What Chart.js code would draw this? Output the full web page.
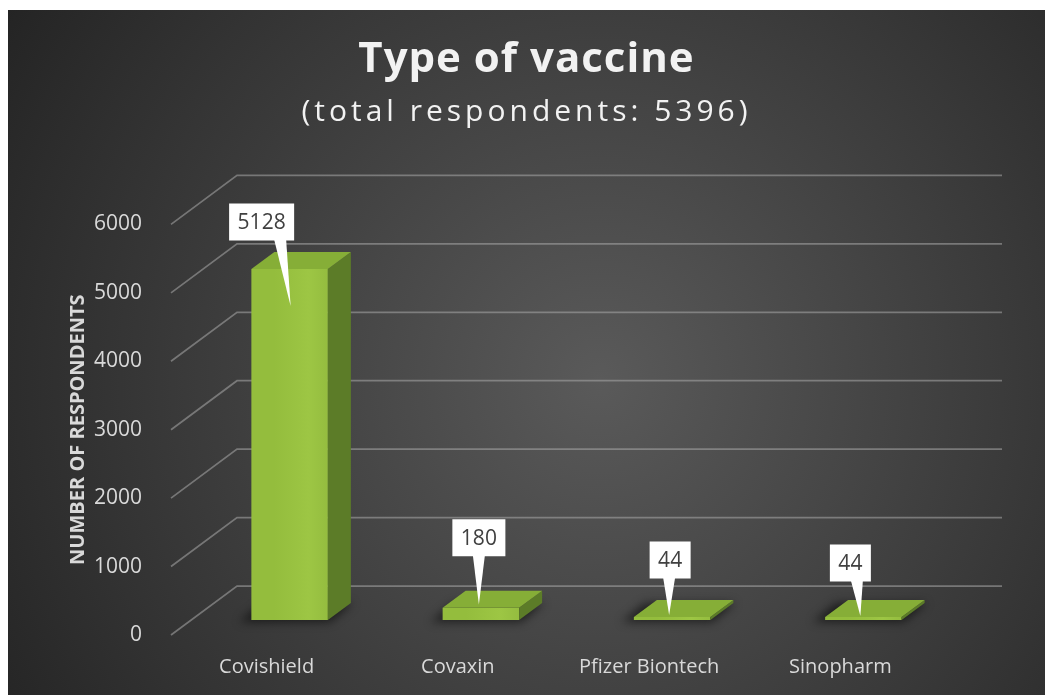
<!DOCTYPE html>
<html>
<head>
<meta charset="utf-8">
<script src="https://cdn.jsdelivr.net/npm/chart.js@4.4.0/dist/chart.umd.min.js"></script>
<style>
  html, body { margin: 0; padding: 0; background: #fff; }
  #wrap { width: 1045px; height: 695px; }
</style>
</head>
<body>
<div id="wrap"><canvas id="vaccinechart"></canvas></div>
<script>
const vaccines = ['Covishield', 'Covaxin', 'Pfizer Biontech', 'Sinopharm']
const respondents = [5128, 180, 44, 44]
const yTicks = [0, 1000, 2000, 3000, 4000, 5000, 6000]
const chartTitle = 'Type of vaccine'
const chartSubtitle = '(total respondents: 5396)'
const yTitle = 'NUMBER OF RESPONDENTS'

// fake 3d: floor runs from the front plane (chart area) back to the wall
const wallDepth = {x: 66, y: -49}
const barShift = {x: 23, y: -15}
const barDepth = {x: 23, y: -17}
// where each callout box sits, relative to the top of its bar
const calloutSpots = [
  {dx: -28, dy: -47, tipX: 1, tipY: 37},
  {dx: -2, dy: -70, tipX: -2, tipY: -3},
  {dx: -2, dy: -57, tipX: -3, tipY: -2},
  {dx: -13, dy: -54, tipX: -3, tipY: -1}
]

const font = "'Open Sans', 'DejaVu Sans', sans-serif"

const background = {
  id: 'background',
  beforeDraw(chart) {
    const {ctx, width, height} = chart
    ctx.save()
    ctx.fillStyle = '#fff'
    ctx.fillRect(0, 0, width, height)
    const g = ctx.createRadialGradient(600, 380, 0, 600, 380, 700)
    g.addColorStop(0, '#5a5a5a')
    g.addColorStop(1, '#242424')
    ctx.fillStyle = g
    ctx.fillRect(8, 10, width - 8, height - 10)
    ctx.restore()
  }
}

// letter spacing for the two heading lines
const spacedTitles = {
  id: 'spacedTitles',
  afterInit(chart) {
    chart.boxes.forEach(box => {
      if (box === chart.legend || !box.options || box.options.text === undefined) return
      const draw = box.draw
      box.draw = function (area) {
        chart.ctx.save()
        chart.ctx.letterSpacing = this.options.text === chartTitle ? '1px' : '4px'
        draw.call(this, area)
        chart.ctx.restore()
      }
    })
  }
}

const threeD = {
  id: 'threeD',
  beforeDatasetsDraw(chart) {
    const {ctx, chartArea} = chart
    const yScale = chart.scales.y
    // back wall grid + floor diagonals
    ctx.save()
    ctx.strokeStyle = 'rgba(170,170,170,0.55)'
    ctx.lineWidth = 1.75
    yScale.ticks.forEach(t => {
      const y = yScale.getPixelForValue(t.value)
      ctx.beginPath()
      ctx.moveTo(chartArea.left, y)
      ctx.lineTo(chartArea.left + wallDepth.x, y + wallDepth.y)
      ctx.lineTo(chartArea.right + wallDepth.x, y + wallDepth.y)
      ctx.stroke()
    })
    ctx.restore()

    ctx.save()
    ctx.translate(barShift.x, barShift.y)
    // soft floor shadows
    const meta = chart.getDatasetMeta(0)
    ctx.save()
    ctx.filter = 'blur(5px)'
    ctx.fillStyle = 'rgba(0,0,0,0.55)'
    meta.data.forEach(bar => {
      const {x, base, width} = bar.getProps(['x', 'base', 'width'], true)
      const l = x - width / 2 - 12, r = x + width / 2 + 2
      ctx.beginPath()
      ctx.moveTo(l, base + 2)
      ctx.lineTo(r, base + 2)
      ctx.lineTo(r + barDepth.x, base + barDepth.y)
      ctx.lineTo(l + barDepth.x, base + barDepth.y)
      ctx.closePath()
      ctx.fill()
    })
    ctx.restore()
  },
  afterDatasetsDraw(chart) {
    const {ctx} = chart
    const meta = chart.getDatasetMeta(0)
    const tops = []
    meta.data.forEach(bar => {
      const {x, y, base, width} = bar.getProps(['x', 'y', 'base', 'width'], true)
      const l = x - width / 2, r = x + width / 2
      ctx.fillStyle = '#5c7c28'
      ctx.beginPath()
      ctx.moveTo(r, y)
      ctx.lineTo(r + barDepth.x, y + barDepth.y)
      ctx.lineTo(r + barDepth.x, base + barDepth.y)
      ctx.lineTo(r, base)
      ctx.closePath()
      ctx.fill()
      ctx.fillStyle = '#86ae37'
      ctx.beginPath()
      ctx.moveTo(l, y)
      ctx.lineTo(l + barDepth.x, y + barDepth.y)
      ctx.lineTo(r + barDepth.x, y + barDepth.y)
      ctx.lineTo(r, y)
      ctx.closePath()
      ctx.fill()
      tops.push({x: x + barShift.x, y: y + barShift.y})
    })
    ctx.restore()

    // callout labels
    ctx.save()
    ctx.font = `21px ${font}`
    ctx.textAlign = 'center'
    ctx.textBaseline = 'middle'
    tops.forEach((top, i) => {
      const spot = calloutSpots[i]
      const text = String(respondents[i])
      const w = ctx.measureText(text).width + 17
      const h = 37
      const cx = top.x + spot.dx, cy = top.y + spot.dy
      const left = cx - w / 2, bottom = cy + h / 2
      const tipX = top.x + spot.tipX, tipY = top.y + spot.tipY
      const bc = Math.min(Math.max(tipX, left + 14), left + w - 14)
      ctx.fillStyle = '#fff'
      ctx.beginPath()
      ctx.rect(left, cy - h / 2, w, h)
      ctx.fill()
      ctx.beginPath()
      ctx.moveTo(bc - 6, bottom - 1)
      ctx.lineTo(tipX, tipY)
      ctx.lineTo(bc + 6, bottom - 1)
      ctx.closePath()
      ctx.fill()
      ctx.fillStyle = '#404040'
      ctx.fillText(text, cx, cy + 1)
    })
    ctx.restore()
  }
}

const ctx = document.getElementById('vaccinechart')
const myChart = new Chart(ctx, {
  type: 'bar',
  data: {
    labels: vaccines,
    datasets: [{
      label: 'respondents',
      data: respondents,
      clip: false,
      barPercentage: 0.4,
      categoryPercentage: 1,
      backgroundColor: c => {
        const area = c.chart.chartArea
        if (!area) return '#95be3e'
        const x = c.chart.scales.x.getPixelForValue(c.dataIndex) + barShift.x
        const g = c.chart.ctx.createLinearGradient(x - 38, 0, x + 38, 0)
        g.addColorStop(0, '#94bd3d')
        g.addColorStop(0.45, '#9dc644')
        g.addColorStop(1, '#8ab23a')
        return g
      }
    }]
  },
  options: {
    responsive: true,
    maintainAspectRatio: false,
    animation: false,
    layout: {padding: {left: 8, right: 0, top: 0, bottom: 0}},
    plugins: {
      legend: {display: false},
      tooltip: {enabled: false},
      title: {
        display: true,
        text: chartTitle,
        color: '#f2f2f2',
        font: {family: font, size: 42, weight: 'bold'},
        padding: {top: 35, bottom: 0}
      },
      subtitle: {
        display: true,
        text: chartSubtitle,
        color: '#f2f2f2',
        font: {family: font, size: 30},
        padding: {top: 9, bottom: 94}
      }
    },
    scales: {
      x: {
        grid: {display: false},
        border: {display: false},
        ticks: {color: '#d9d9d9', font: {family: font, size: 20}, padding: 12},
        afterFit(scale) { scale.height = 60 }
      },
      y: {
        min: 0,
        max: 6000,
        grid: {display: false},
        border: {display: false},
        afterBuildTicks(scale) { scale.ticks = yTicks.map(v => ({value: v})) },
        ticks: {
          color: '#d9d9d9',
          font: {family: font, size: 21},
          padding: 21,
          callback: v => String(v)
        },
        title: {
          display: true,
          text: yTitle,
          color: '#d9d9d9',
          font: {family: font, size: 20, weight: 'bold'},
          padding: {top: 58}
        },
        afterFit(scale) { scale.width = 163 }
      },
      // empty right-hand strip so the plot ends where the back wall needs it
      yRight: {
        position: 'right',
        grid: {display: false},
        border: {display: false},
        ticks: {display: false},
        afterFit(scale) { scale.width = 109 }
      }
    }
  },
  plugins: [background, spacedTitles, threeD]
})
</script>
</body>
</html>
